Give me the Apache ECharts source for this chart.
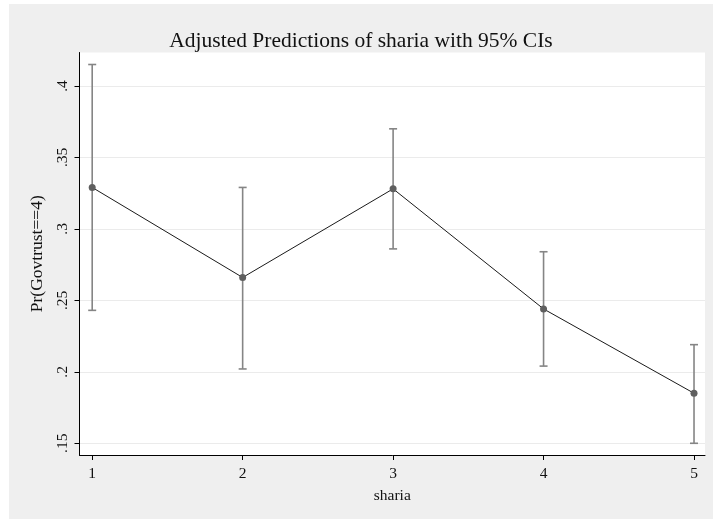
<!DOCTYPE html>
<html>
<head>
<meta charset="utf-8">
<script src="https://cdn.jsdelivr.net/npm/echarts@6/dist/echarts.min.js"></script>
<style>
html,body{margin:0;padding:0;background:#ffffff;}
#chart{position:absolute;left:9px;top:4px;width:704px;height:515px;background:#efefef;}
</style>
</head>
<body>
<div id="chart"></div>
<script>
const categories = [1, 2, 3, 4, 5];
const predicted = [0.329, 0.266, 0.328, 0.244, 0.185];
const ciLower = [0.243, 0.202, 0.286, 0.204, 0.150];
const ciUpper = [0.415, 0.329, 0.370, 0.284, 0.219];
const yTicks = [0.15, 0.2, 0.25, 0.3, 0.35, 0.4];
const xTicks = [1, 2, 3, 4, 5];

const serif = '"Liberation Serif", "Times New Roman", serif';
const chart = echarts.init(document.getElementById('chart'));

const lineData = categories.map((c, i) => [c, predicted[i]]);
const ciData = categories.map((c, i) => [c, ciLower[i], ciUpper[i]]);

chart.setOption({
  animation: false,
  backgroundColor: '#efefef',
  title: {
    text: 'Adjusted Predictions of sharia with 95% CIs',
    left: 'center',
    top: 21,
    textStyle: {fontFamily: serif, fontWeight: 'normal', fontSize: 21.5, color: '#111'}
  },
  grid: {left: 70.5, top: 48.5, right: 8, bottom: 64, backgroundColor: '#ffffff', show: true, borderWidth: 0},
  xAxis: {
    type: 'value',
    min: 0.9156,
    max: 5.073,
    name: 'sharia',
    nameLocation: 'middle',
    nameGap: 33,
    nameTextStyle: {fontFamily: serif, fontSize: 15.5, color: '#111'},
    axisLine: {show: true, onZero: false, lineStyle: {color: '#000', width: 1}},
    axisTick: {show: true, length: 5, customValues: xTicks, lineStyle: {color: '#000'}},
    axisLabel: {customValues: xTicks, margin: 11, fontFamily: serif, fontSize: 15.5, color: '#111'},
    splitLine: {show: false}
  },
  yAxis: {
    type: 'value',
    min: 0.1418,
    max: 0.4234,
    name: 'Pr(Govtrust==4)',
    nameLocation: 'middle',
    nameRotate: 90,
    nameGap: 33,
    nameTextStyle: {fontFamily: serif, fontSize: 17.5, color: '#111'},
    axisLine: {show: true, onZero: false, lineStyle: {color: '#000', width: 1}},
    axisTick: {show: true, length: 5, customValues: yTicks, lineStyle: {color: '#000'}},
    axisLabel: {
      customValues: yTicks,
      rotate: 90,
      margin: 9,
      fontFamily: serif, fontSize: 15.5, color: '#111',
      formatter: v => String(+v.toFixed(2)).replace(/^0\./, '.')
    },
    splitLine: {show: true, lineStyle: {color: '#ebebeb', width: 1.2}}
  },
  series: [
    {
      type: 'custom',
      data: ciData,
      z: 2,
      renderItem: function (params, api) {
        const x = api.value(0);
        const lo = api.coord([x, api.value(1)]);
        const hi = api.coord([x, api.value(2)]);
        const cap = 4;
        const style = {stroke: '#858585', lineWidth: 1.6};
        return {
          type: 'group',
          children: [
            {type: 'line', shape: {x1: lo[0], y1: lo[1], x2: hi[0], y2: hi[1]}, style: style},
            {type: 'line', shape: {x1: lo[0] - cap, y1: lo[1], x2: lo[0] + cap, y2: lo[1]}, style: style},
            {type: 'line', shape: {x1: hi[0] - cap, y1: hi[1], x2: hi[0] + cap, y2: hi[1]}, style: style}
          ]
        };
      }
    },
    {
      type: 'line',
      data: lineData,
      z: 3,
      symbol: 'circle',
      symbolSize: 7,
      lineStyle: {color: '#1a1a1a', width: 1},
      itemStyle: {color: '#5f5f5f'}
    }
  ]
});
</script>
</body>
</html>
